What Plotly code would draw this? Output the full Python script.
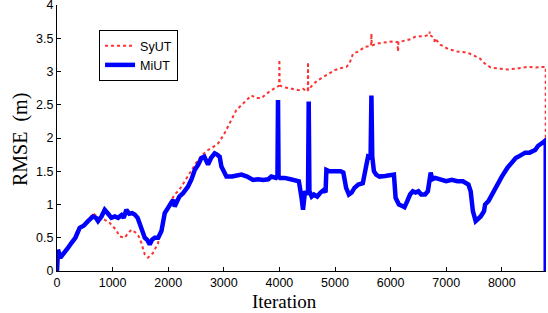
import plotly.graph_objects as go

# MiUT (blue) : iteration, RMSE
miut_x = [0, 18, 60, 138, 200, 258, 330, 408, 480, 558, 648, 700, 738, 800, 858, 920, 978, 1040,
          1098, 1160, 1200, 1248, 1300, 1350, 1398, 1450, 1488, 1530, 1578, 1620, 1668, 1710, 1758,
          1820, 1878, 1938, 2000, 2088, 2117, 2200, 2268, 2356, 2420, 2477, 2540, 2597, 2650, 2687,
          2716, 2770, 2836, 2880, 2926, 2957, 3000, 3047, 3150, 3316, 3420, 3526, 3620, 3706, 3800,
          3856, 3940, 3965, 3975, 3985, 4010, 4095, 4200, 4305, 4350, 4395, 4425, 4460, 4500,
          4515, 4527, 4540, 4580, 4620, 4680, 4740, 4800, 4830, 4845, 4900, 5000, 5100, 5150, 5200,
          5250, 5300, 5350, 5420, 5500, 5550, 5594, 5640, 5655, 5670, 5700, 5740, 5800, 5900, 6000,
          6060, 6090, 6104, 6150, 6200, 6250, 6300, 6350, 6400, 6450, 6500, 6550, 6620, 6670, 6721,
          6750, 6800, 6900, 7000, 7100, 7200, 7300, 7400, 7440, 7480, 7530, 7580, 7620, 7680, 7700,
          7760, 7820, 7900, 8000, 8100, 8200, 8250, 8300, 8350, 8420, 8500, 8550, 8600, 8650, 8700,
          8750, 8780, 8790, 8790]
miut_y = [0.0, 0.32, 0.2, 0.27, 0.35, 0.42, 0.5, 0.65, 0.68, 0.75, 0.82, 0.8, 0.75, 0.82, 0.92, 0.86, 0.8, 0.82,
          0.8, 0.84, 0.8, 0.92, 0.86, 0.87, 0.85, 0.8, 0.7, 0.6, 0.5, 0.47, 0.4, 0.47, 0.5,
          0.5, 0.6, 0.87, 0.95, 1.07, 0.97, 1.12, 1.17, 1.27, 1.38, 1.52, 1.6, 1.7, 1.72, 1.65,
          1.6, 1.7, 1.77, 1.75, 1.72, 1.57, 1.5, 1.42, 1.42, 1.45, 1.42, 1.37, 1.38, 1.37, 1.38,
          1.42, 1.4, 1.42, 2.57, 1.42, 1.4, 1.4, 1.38, 1.37, 1.35, 1.12, 0.92, 1.2, 1.15,
          1.2, 2.55, 1.2, 1.12, 1.15, 1.12, 1.18, 1.22, 1.18, 1.52, 1.5, 1.5, 1.5, 1.48, 1.25,
          1.15, 1.18, 1.25, 1.3, 1.32, 1.5, 1.72, 1.7, 2.64, 1.72, 1.5, 1.45, 1.42, 1.43, 1.45,
          1.45, 1.1, 1.07, 1.0, 0.98, 0.96, 1.05, 1.15, 1.2, 1.18, 1.2, 1.15, 1.15, 1.2, 1.48,
          1.38, 1.4, 1.38, 1.35, 1.37, 1.35, 1.35, 1.3, 1.2, 0.9, 0.75, 0.78, 0.82, 0.9, 1.0,
          1.05, 1.15, 1.28, 1.42, 1.55, 1.65, 1.7, 1.72, 1.75, 1.78, 1.78, 1.8, 1.82, 1.88, 1.92,
          1.94, 1.96, 1.95, 0.0]

# SyUT (red, dotted) : iteration, RMSE
syut_x = [0, 18, 60, 138, 200, 258, 330, 408, 480, 558, 648, 720, 800, 858, 930, 1007, 1060, 1128,
          1218, 1280, 1338, 1428, 1470, 1518, 1578, 1637, 1680, 1727, 1817, 1870, 1937, 2027, 2117,
          2200, 2356, 2450, 2536, 2620, 2716, 2800, 2900, 3000, 3076, 3150, 3226, 3300, 3376, 3496,
          3580, 3676, 3760, 3856, 3950, 3995, 4000, 4005, 4100, 4216, 4275, 4350, 4425, 4500, 4512,
          4515, 4518, 4600, 4680, 4755, 4880, 4995, 5100, 5205, 5260, 5325, 5420, 5535, 5600, 5650,
          5655, 5660, 5760, 5894, 6000, 6125, 6133, 6141, 6250, 6374, 6433, 6583, 6700, 6703, 6706,
          6790, 6793, 6796, 6900, 7033, 7200, 7333, 7420, 7513, 7600, 7693, 7800, 7993, 8100, 8232,
          8350, 8471, 8600, 8741, 8790, 8790]
syut_y = [0.0, 0.3, 0.2, 0.27, 0.35, 0.42, 0.5, 0.65, 0.68, 0.75, 0.87, 0.82, 0.8, 0.77, 0.74, 0.67, 0.62, 0.52,
          0.5, 0.57, 0.62, 0.57, 0.52, 0.42, 0.25, 0.2, 0.23, 0.27, 0.42, 0.6, 0.87, 1.02, 1.15,
          1.22, 1.42, 1.55, 1.67, 1.75, 1.82, 1.86, 1.92, 2.05, 2.17, 2.3, 2.42, 2.48, 2.54, 2.64,
          2.6, 2.6, 2.66, 2.72, 2.76, 2.79, 3.18, 2.79, 2.76, 2.74, 2.74, 2.72, 2.74, 2.7, 2.72,
          3.14, 2.72, 2.8, 2.86, 2.9, 2.96, 3.02, 3.05, 3.07, 3.12, 3.27, 3.3, 3.37, 3.38, 3.39,
          3.57, 3.39, 3.42, 3.44, 3.45, 3.44, 3.3, 3.44, 3.46, 3.49, 3.52, 3.53, 3.55, 3.6, 3.55,
          3.5, 3.42, 3.5, 3.4, 3.34, 3.3, 3.29, 3.27, 3.24, 3.2, 3.12, 3.06, 3.04, 3.03, 3.04,
          3.05, 3.07, 3.06, 3.07, 3.07, 2.0]

x_ticks = [0, 1000, 2000, 3000, 4000, 5000, 6000, 7000, 8000]
y_ticks = [0, 0.5, 1, 1.5, 2, 2.5, 3, 3.5, 4]
y_tick_labels = ["0", "0.5", "1", "1.5", "2", "2.5", "3", "3.5", "4"]

fig = go.Figure()
fig.add_trace(go.Scatter(x=syut_x, y=syut_y, mode="lines", name="SyUT",
                         line=dict(color="#ff3030", width=2, dash="dot")))
fig.add_trace(go.Scatter(x=miut_x, y=miut_y, mode="lines", name="MiUT",
                         line=dict(color="#0000ff", width=4.5)))

tick_font = dict(family="Liberation Sans, Arial, sans-serif", size=12.5, color="black")
fig.update_layout(
    width=548, height=313,
    margin=dict(l=57, r=2, t=5, b=42, autoexpand=False),
    paper_bgcolor="white", plot_bgcolor="white",
    showlegend=True,
    legend=dict(x=0.086, y=0.906, xanchor="left", yanchor="top",
                bgcolor="white", bordercolor="black", borderwidth=1,
                font=dict(family="Liberation Sans, Arial, sans-serif", size=12.5, color="black"),
                itemwidth=30, tracegroupgap=0),
    xaxis=dict(range=[0, 8795], tickmode="array", tickvals=x_ticks, automargin=False,
               ticklabeloverflow="allow",
               ticks="inside", ticklen=4, tickcolor="black", showgrid=False, zeroline=False,
               showline=True, linecolor="black", linewidth=1, tickfont=tick_font),
    yaxis=dict(range=[0, 4], tickmode="array", tickvals=y_ticks, ticktext=y_tick_labels,
               automargin=False, ticklabeloverflow="allow",
               ticks="inside", ticklen=4, tickcolor="black", showgrid=False, zeroline=False,
               showline=True, linecolor="black", linewidth=1, tickfont=tick_font),
    annotations=[
        dict(text="Iteration", xref="paper", yref="paper", x=(284 - 57) / 489, y=-(301 - 271) / 266,
             xanchor="center", yanchor="middle", showarrow=False,
             font=dict(family="Liberation Serif, Times New Roman, serif", size=19, color="black")),
        dict(text="RMSE  (m)", xref="paper", yref="paper", x=-(57 - 20) / 489, y=(266 - 135) / 266,
             xanchor="center", yanchor="middle", showarrow=False, textangle=-90,
             font=dict(family="Liberation Serif, Times New Roman, serif", size=20, color="black")),
    ],
)
fig.write_html("out.html", config={"displayModeBar": False},
               post_script="document.body.style.margin='0';document.body.style.overflow='hidden';")
